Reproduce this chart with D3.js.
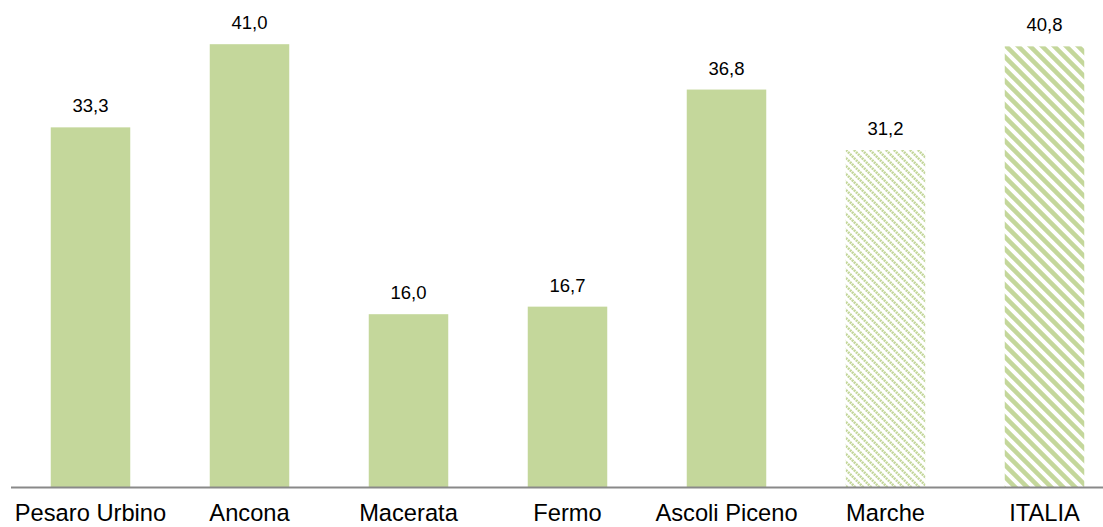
<!DOCTYPE html>
<html>
<head>
<meta charset="utf-8">
<script src="https://cdn.jsdelivr.net/npm/d3@7"></script>
<style>
  html, body { margin: 0; padding: 0; background: #fff; }
  svg { display: block; }
  text { font-family: "Liberation Sans", Arial, sans-serif; fill: #000; }
</style>
</head>
<body>
<svg id="chart" width="1103" height="527"></svg>
<script>
const categories = ["Pesaro Urbino", "Ancona", "Macerata", "Fermo", "Ascoli Piceno", "Marche", "ITALIA"];
const values = [33.3, 41.0, 16.0, 16.7, 36.8, 31.2, 40.8];
const fillKinds = ["solid", "solid", "solid", "solid", "solid", "fine", "wide"];
const valueLabels = ["33,3", "41,0", "16,0", "16,7", "36,8", "31,2", "40,8"];

const W = 1103, H = 527;
const baseY = 487;
const svg = d3.select("#chart");

const x = d3.scaleBand()
  .domain(categories)
  .range([11, 1124])
  .paddingInner(0.5)
  .paddingOuter(0.25);

const y = d3.scaleLinear()
  .domain([0, 45])
  .range([baseY, baseY - 45 * 10.8]);

const green = "#c4d79b";
const defs = svg.append("defs");

// fine dotted downward diagonal
const pf = defs.append("pattern")
  .attr("id", "fine")
  .attr("patternUnits", "userSpaceOnUse")
  .attr("width", 8).attr("height", 8);
pf.append("rect").attr("width", 8).attr("height", 8).attr("fill", "#fff");
pf.append("path")
  .attr("d", "M-2,-2 L10,10 M-2,6 L2,10 M6,-2 L10,2")
  .attr("stroke", green)
  .attr("stroke-width", 2.6)
  .attr("stroke-dasharray", "2,0.8")
  .attr("fill", "none");

// wide downward diagonal
const pw = defs.append("pattern")
  .attr("id", "wide")
  .attr("patternUnits", "userSpaceOnUse")
  .attr("width", 12).attr("height", 12);
pw.append("rect").attr("width", 12).attr("height", 12).attr("fill", "#fff");
pw.append("path")
  .attr("d", "M-3,-3 L15,15 M-3,9 L3,15 M9,-3 L15,3")
  .attr("stroke", green)
  .attr("stroke-width", 4.5)
  .attr("fill", "none");

const data = categories.map((c, i) => ({ c, v: values[i], k: fillKinds[i], l: valueLabels[i] }));

svg.append("g").selectAll("rect")
  .data(data)
  .join("rect")
  .attr("x", d => x(d.c))
  .attr("width", x.bandwidth())
  .attr("y", d => y(d.v))
  .attr("height", d => y(0) - y(d.v))
  .attr("fill", d => d.k === "solid" ? green : `url(#${d.k})`);

// axis line
const xAxis = d3.axisBottom(x).tickSize(0).tickPadding(17);
const ax = svg.append("g")
  .attr("transform", `translate(0,${baseY})`)
  .call(xAxis);
ax.select(".domain")
  .attr("d", `M11,0.5H${W}`)
  .attr("stroke", "#898989")
  .attr("stroke-width", 2);
ax.selectAll(".tick text")
  .attr("font-family", "Liberation Sans, Arial, sans-serif")
  .attr("font-size", "23.7px")
  .attr("fill", "#000")
  .attr("dy", "0.71em");

// value labels
svg.append("g").selectAll("text")
  .data(data)
  .join("text")
  .attr("x", d => x(d.c) + x.bandwidth() / 2)
  .attr("y", d => y(d.v) - 15)
  .attr("text-anchor", "middle")
  .attr("font-size", "18.5px")
  .text(d => d.l);
</script>
</body>
</html>
